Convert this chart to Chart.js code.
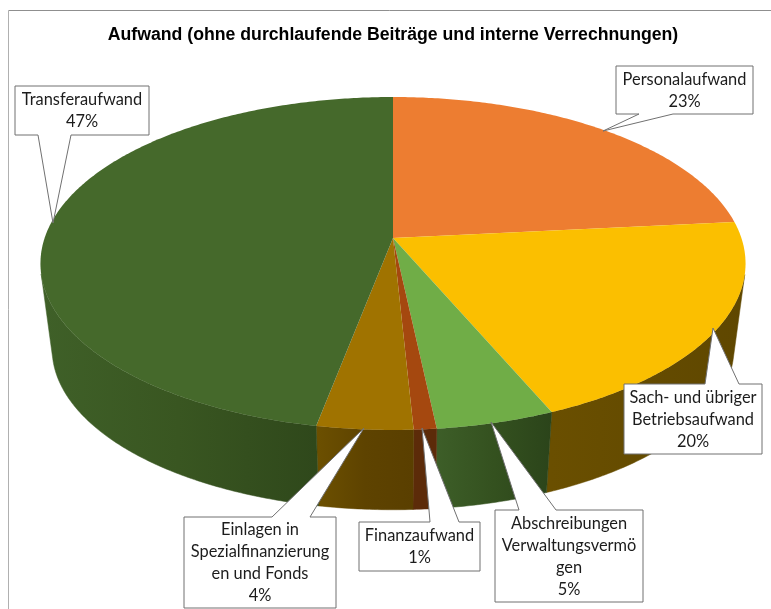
<!DOCTYPE html>
<html lang="de">
<head>
<meta charset="utf-8">
<title>Aufwand</title>
<script src="https://cdn.jsdelivr.net/npm/chart.js@4"></script>
<style>
  html, body { margin: 0; padding: 0; background: #fff; overflow: hidden; }
  canvas { display: block; }
</style>
</head>
<body>
<canvas id="pie" width="771" height="609"></canvas>
<script>
const chartTitle = "Aufwand (ohne durchlaufende Beiträge und interne Verrechnungen)";
const categories = [
  "Personalaufwand",
  "Sach- und übriger Betriebsaufwand",
  "Abschreibungen Verwaltungsvermögen",
  "Finanzaufwand",
  "Einlagen in Spezialfinanzierungen und Fonds",
  "Transferaufwand"
];
const shares = [23.4, 20.2, 4.7, 0.9, 3.8, 47.0];
// the label boxes break the words like the original does
const labelLines = [
  ["Personalaufwand"],
  ["Sach- und übriger", "Betriebsaufwand"],
  ["Abschreibungen", "Verwaltungsvermö", "gen"],
  ["Finanzaufwand"],
  ["Einlagen in", "Spezialfinanzierung", "en und Fonds"],
  ["Transferaufwand"]
];
const topColors = ["#ED7D31", "#FBBF00", "#70AD47", "#A5480F", "#A07300", "#45692B"];
const wallColors = [
  ["#8a4a1d", "#8a4a1d"],
  ["#6a4f00", "#644b00", "#5f4700"],
  ["#3d5e28", "#34511f", "#2b441a"],
  ["#5c2b09", "#5c2b09"],
  ["#6c5000", "#5e4300", "#5a3f00"],
  ["#3f6028", "#395621", "#2f481b"]
];
const callouts = [
  {x: 616, y: 66, w: 137, h: 48, edge: "bottom", base: [639, 673], tip: [603, 131]},
  {x: 624, y: 384, w: 138, h: 70, edge: "top", base: [705, 739], tip: [713, 328]},
  {x: 495, y: 510, w: 148, h: 92, edge: "top", base: [519, 556], tip: [491, 422]},
  {x: 359, y: 522, w: 121, h: 49, edge: "top", base: [430, 459], tip: [422, 428]},
  {x: 184, y: 517, w: 152, h: 91, edge: "top", base: [272, 310], tip: [364, 428]},
  {x: 15, y: 86, w: 134, h: 49, edge: "bottom", base: [38, 71], tip: [53, 223]}
];

// perspective of the disc, found by measuring the rim in the picture
const tilt = 0.153;
const xGain = 2.471;
const yGain = 1.153;
const wallShrink = 0.967;
const wallDrop = 94;

function rimPoint(arc, angle) {
  const u = Math.cos(angle), v = Math.sin(angle);
  const d = 1 - tilt * v;
  return {
    x: arc.x + xGain * arc.outerRadius * u / d,
    y: arc.y + yGain * arc.outerRadius * v / d
  };
}

function wallPoint(arc, p) {
  return {x: arc.x + wallShrink * (p.x - arc.x), y: p.y * wallShrink + wallDrop};
}

function sampleRim(arc) {
  const pts = [];
  const steps = Math.max(4, Math.ceil((arc.endAngle - arc.startAngle) / 0.01));
  for (let i = 0; i <= steps; i++) {
    pts.push(rimPoint(arc, arc.startAngle + (arc.endAngle - arc.startAngle) * i / steps));
  }
  return pts;
}

// only the part of the rim whose wall faces the viewer
function visibleRim(arc) {
  const pts = sampleRim(arc);
  const keep = [];
  for (let i = 0; i < pts.length - 1; i++) {
    const a = pts[i], b = pts[i + 1], d = wallPoint(arc, a);
    const cross = (b.x - a.x) * (d.y - a.y) - (b.y - a.y) * (d.x - a.x);
    if (cross < 0) {
      if (!keep.length || keep[keep.length - 1] !== a) keep.push(a);
      keep.push(b);
    }
  }
  return keep;
}

function drawWall(ctx, arc, stops) {
  const pts = visibleRim(arc);
  if (!pts.length) return;
  const xs = pts.map(p => p.x);
  const grad = ctx.createLinearGradient(Math.min(...xs), 0, Math.max(...xs), 0);
  stops.forEach((c, i) => grad.addColorStop(i / (stops.length - 1), c));
  ctx.beginPath();
  pts.forEach((p, i) => i ? ctx.lineTo(p.x, p.y) : ctx.moveTo(p.x, p.y));
  pts.slice().reverse().forEach(p => {
    const q = wallPoint(arc, p);
    ctx.lineTo(q.x, q.y);
  });
  ctx.closePath();
  ctx.fillStyle = grad;
  ctx.strokeStyle = grad;
  ctx.lineWidth = 0.5;
  ctx.fill();
  ctx.stroke();
}

function drawTop(ctx, arc, color) {
  ctx.beginPath();
  ctx.moveTo(arc.x, arc.y);
  sampleRim(arc).forEach(p => ctx.lineTo(p.x, p.y));
  ctx.closePath();
  ctx.fillStyle = color;
  ctx.fill();
}

function drawCallout(ctx, c, lines) {
  const r = c.x + c.w, b = c.y + c.h;
  ctx.beginPath();
  ctx.moveTo(c.x, c.y);
  if (c.edge === "top") {
    ctx.lineTo(c.base[0], c.y);
    ctx.lineTo(c.tip[0], c.tip[1]);
    ctx.lineTo(c.base[1], c.y);
  }
  ctx.lineTo(r, c.y);
  ctx.lineTo(r, b);
  if (c.edge === "bottom") {
    ctx.lineTo(c.base[1], b);
    ctx.lineTo(c.tip[0], c.tip[1]);
    ctx.lineTo(c.base[0], b);
  }
  ctx.lineTo(c.x, b);
  ctx.closePath();
  ctx.fillStyle = "#fff";
  ctx.fill();
  ctx.lineWidth = 1;
  ctx.strokeStyle = "#707070";
  ctx.stroke();

  ctx.fillStyle = "#1c1c1c";
  ctx.font = "16.4px Lato";
  ctx.textAlign = "center";
  ctx.textBaseline = "middle";
  const lineH = 22;
  const startY = c.y + c.h / 2 + 0.5 - (lines.length - 1) * lineH / 2;
  lines.forEach((t, i) => ctx.fillText(t, c.x + c.w / 2, startY + i * lineH));
}

const pie3d = {
  id: "pie3d",
  beforeDraw(chart) {
    const ctx = chart.ctx;
    ctx.save();
    ctx.lineWidth = 1;
    ctx.strokeStyle = "#8f8f8f";
    ctx.beginPath();
    ctx.moveTo(771, 10.5);
    ctx.lineTo(8.5, 10.5);
    ctx.stroke();
    ctx.strokeStyle = "#b0b0b0";
    ctx.beginPath();
    ctx.moveTo(8.5, 10.5);
    ctx.lineTo(8.5, 609);
    ctx.stroke();
    ctx.restore();
  },
  // the arcs keep the angles Chart.js worked out, only the drawing is replaced
  beforeDatasetDraw(chart) {
    const ctx = chart.ctx;
    const arcs = chart.getDatasetMeta(0).data;
    const colors = chart.data.datasets[0].backgroundColor;
    ctx.save();
    arcs.forEach((arc, i) => drawWall(ctx, arc, wallColors[i]));
    arcs.forEach((arc, i) => drawTop(ctx, arc, colors[i]));
    ctx.restore();
    return false;
  },
  afterDraw(chart) {
    const ctx = chart.ctx;
    const total = shares.reduce((a, b) => a + b, 0);
    ctx.save();
    callouts.forEach((c, i) => {
      const pct = Math.round(shares[i] / total * 100) + "%";
      drawCallout(ctx, c, labelLines[i].concat(pct));
    });
    ctx.restore();
  }
};

new Chart(document.getElementById("pie"), {
  type: "pie",
  data: {
    labels: categories,
    datasets: [{data: shares, backgroundColor: topColors, borderWidth: 0}]
  },
  options: {
    responsive: false,
    animation: false,
    layout: {padding: {left: 15, right: 0, top: 0, bottom: 230}},
    plugins: {
      legend: {display: false},
      tooltip: {enabled: false},
      title: {
        display: true,
        text: chartTitle,
        color: "#000",
        font: {family: "Liberation Sans", size: 17.68, weight: "bold"},
        padding: {top: 24.5, bottom: 51.3}
      }
    }
  },
  plugins: [pie3d]
});
</script>
</body>
</html>
